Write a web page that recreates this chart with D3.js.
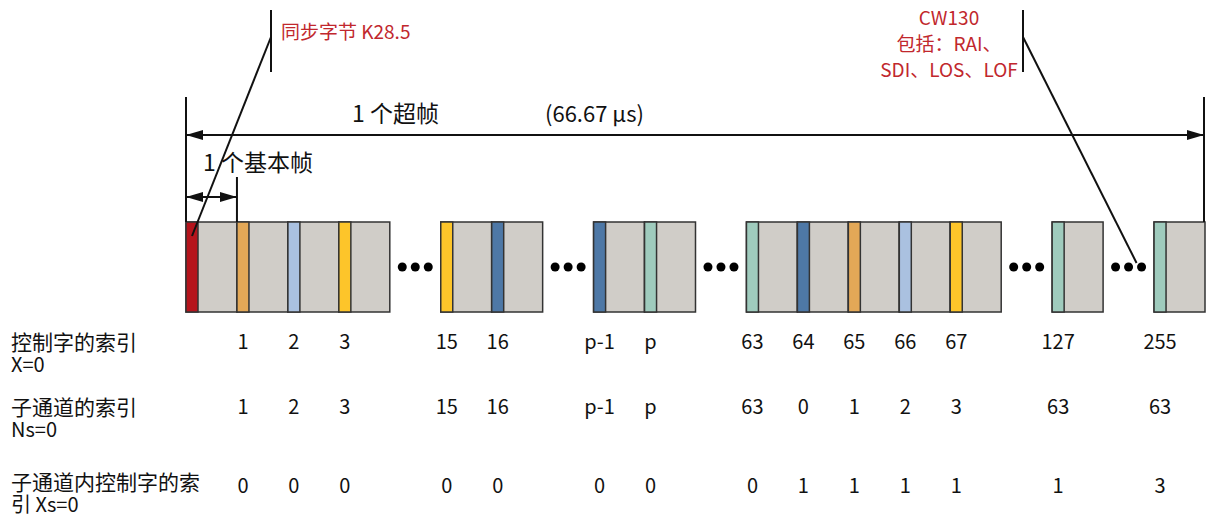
<!DOCTYPE html>
<html>
<head>
<meta charset="utf-8">
<script src="https://cdn.jsdelivr.net/npm/d3@7"></script>
<style>
  body { margin: 0; background: #fff; }
  text { font-family: "Noto Sans CJK SC", "Open Sans", sans-serif; }
</style>
</head>
<body>
<svg id="chart"></svg>
<script>
// 超帧里的时隙，"…" 为省略号位置
const slots = ["0", "1", "2", "3", "…a", "15", "16", "…b", "p-1", "p", "…c",
               "63", "64", "65", "66", "67", "…d", "127", "…e", "255"];
// 每个基本帧开头控制字的类型（null = 省略号）
const stripeType = ["sync", "a", "b", "c", null, "c", "d", null, "d", "e", null,
                    "e", "d", "a", "b", "c", null, "e", null, "e"];
// 三行索引
const xIndex  = ["", "1", "2", "3", null, "15", "16", null, "p-1", "p", null,
                 "63", "64", "65", "66", "67", null, "127", null, "255"];
const nsIndex = ["", "1", "2", "3", null, "15", "16", null, "p-1", "p", null,
                 "63", "0", "1", "2", "3", null, "63", null, "63"];
const xsIndex = ["", "0", "0", "0", null, "0", "0", null, "0", "0", null,
                 "0", "1", "1", "1", "1", null, "1", null, "3"];
const rowTitles = [["控制字的索引", "X=0"], ["子通道的索引", "Ns=0"], ["子通道内控制字的索", "引 Xs=0"]];
const typeKeys = ["sync", "a", "b", "c", "d", "e"];
const typeColors = ["#b5141c", "#e3a857", "#aac1e0", "#fdc52a", "#4e78a6", "#9fcbbd"];

const width = 1214, height = 518;
const svg = d3.select("#chart").attr("width", width).attr("height", height);

const x = d3.scaleBand().domain(slots).range([186, 1205]).padding(0);
const color = d3.scaleOrdinal().domain(typeKeys).range(typeColors);
const bw = x.bandwidth();
const stripeW = 12;
const blockTop = 222, blockH = 90;
const line = "#111";

// 箭头
svg.append("defs").append("marker")
    .attr("id", "arrow")
    .attr("viewBox", "0 0 17 10")
    .attr("refX", 17).attr("refY", 5)
    .attr("markerWidth", 17).attr("markerHeight", 10)
    .attr("markerUnits", "userSpaceOnUse")
    .attr("orient", "auto-start-reverse")
    .append("path").attr("d", "M0,0 L17,5 L0,10 Z").attr("fill", line);

const frames = slots.map((s, i) => ({ s, i })).filter(d => stripeType[d.i] !== null);
const gaps = slots.map((s, i) => ({ s, i })).filter(d => stripeType[d.i] === null);

// 基本帧
svg.selectAll("rect.frame").data(frames).enter().append("rect")
    .attr("class", "frame")
    .attr("x", d => x(d.s)).attr("y", blockTop)
    .attr("width", bw).attr("height", blockH)
    .attr("fill", "#d0cdc8").attr("stroke", "#333").attr("stroke-width", 1.5);

svg.selectAll("rect.stripe").data(frames).enter().append("rect")
    .attr("class", "stripe")
    .attr("x", d => x(d.s)).attr("y", blockTop)
    .attr("width", stripeW).attr("height", blockH)
    .attr("fill", d => color(stripeType[d.i])).attr("stroke", "#333").attr("stroke-width", 1.5);

// 省略号
gaps.forEach(d => {
    [-13, 0, 13].forEach(o => {
        svg.append("circle")
            .attr("cx", x(d.s) + bw / 2 + o).attr("cy", blockTop + blockH / 2)
            .attr("r", 4.5).attr("fill", "#000");
    });
});

// 索引行
const rows = [xIndex, nsIndex, xsIndex];
const rowY = [349, 414, 493];
const titleY = [[350, 372], [415, 437], [490, 512]];
rows.forEach((vals, r) => {
    svg.selectAll(null).data(frames.filter(d => vals[d.i])).enter().append("text")
        .attr("x", d => x(d.s) + stripeW / 2)
        .attr("y", rowY[r])
        .attr("text-anchor", "middle")
        .attr("font-size", "20px")
        .attr("fill", "#111")
        .text(d => vals[d.i]);

    svg.append("text").attr("x", 11).attr("y", titleY[r][0])
        .attr("font-size", "21px").attr("fill", "#111").text(rowTitles[r][0]);
    svg.append("text").attr("x", 11).attr("y", titleY[r][1])
        .attr("font-size", "20px").attr("fill", "#111").text(rowTitles[r][1]);
});

// 超帧 / 基本帧标尺
const x0 = x.range()[0], x1 = x.range()[1] - 1, xb = x("1");
[[x0, 97], [x1, 97], [xb, 177]].forEach(([lx, y0]) => {
    svg.append("line").attr("x1", lx).attr("x2", lx).attr("y1", y0).attr("y2", blockTop)
        .attr("stroke", line).attr("stroke-width", 2);
});
[[x0, x1, 135], [x0, xb, 197]].forEach(([a, b, ly]) => {
    svg.append("line").attr("x1", a).attr("x2", b).attr("y1", ly).attr("y2", ly)
        .attr("stroke", line).attr("stroke-width", 2)
        .attr("marker-start", "url(#arrow)").attr("marker-end", "url(#arrow)");
});

svg.append("text").attr("x", 352).attr("y", 122).attr("font-size", "23px").attr("fill", "#111").text("1 个超帧");
svg.append("text").attr("x", 545).attr("y", 122).attr("font-size", "22px").attr("fill", "#111").text("(66.67 µs)");
svg.append("text").attr("x", 203).attr("y", 171).attr("font-size", "23px").attr("fill", "#111").text("1 个基本帧");

// 注释
const red = "#c1272d";
const notes = [
    { vx: 271, tx: x("0") + stripeW / 2, ty: blockTop + 14 },
    { vx: 1023, tx: x("…e") + bw / 2 + 8, ty: blockTop + 41 }
];
notes.forEach(n => {
    svg.append("line").attr("x1", n.vx).attr("x2", n.vx).attr("y1", 10).attr("y2", 72)
        .attr("stroke", line).attr("stroke-width", 2);
    svg.append("line").attr("x1", n.vx).attr("y1", 37).attr("x2", n.tx).attr("y2", n.ty)
        .attr("stroke", line).attr("stroke-width", 2);
});

svg.append("text").attr("x", 281).attr("y", 39).attr("font-size", "19px").attr("fill", red).text("同步字节 K28.5");
["CW130", "包括：RAI、", "SDI、LOS、LOF"].forEach((s, i) => {
    svg.append("text").attr("x", 949).attr("y", 25 + i * 26)
        .attr("text-anchor", "middle").attr("font-size", "19px").attr("fill", red).text(s);
});
</script>
</body>
</html>
